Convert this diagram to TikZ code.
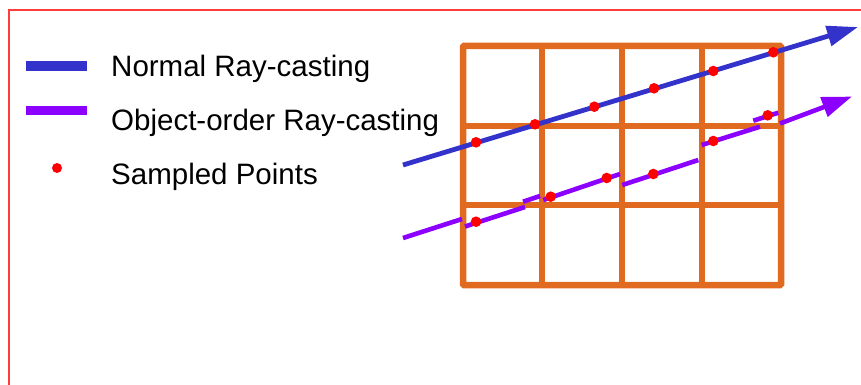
\documentclass[tikz,border=0pt]{standalone}
\usepackage{fontspec}
\setmainfont{Liberation Sans}
\usepackage{tikz}
\usetikzlibrary{arrows.meta, positioning}

\definecolor{rayblue}{RGB}{51,51,204}
\definecolor{raypurple}{RGB}{140,0,255}
\definecolor{gridorange}{RGB}{224,106,32}
\definecolor{frame}{RGB}{255,60,60}

\begin{document}
\begin{tikzpicture}[x=1pt, y=-1pt,
  gridline/.style={draw=gridorange, line width=6.5pt, line cap=rect},
  normalray/.style={draw=rayblue, line width=4.8pt, -{Triangle[length=31pt, width=20pt]}},
  objray/.style={draw=raypurple, line width=4.6pt},
  objarr/.style={objray, -{Triangle[length=30pt, width=20pt]}},
  sample/.style={fill=red},
  legend/.style={anchor=base west, inner sep=0pt, font=\fontsize{29.5}{35}\selectfont},
]

\useasboundingbox (0,0) rectangle (861,385);

% frame (only top and left edge inside the page)
\draw[frame, line width=1.5pt] (9,390) -- (9,10) -- (870,10);

% legend
\draw[rayblue, line width=10pt] (26,66) -- (87,66);
\draw[raypurple, line width=9pt] (26,111) -- (87,111);
\fill[sample] (57,168) circle (5pt);
\node[legend] (lnormal) at (111,77) {Normal Ray-casting};
\node[legend] (lobject) at (111,130) {Object-order Ray-casting};
\node[legend] (lsample) at (111,184) {Sampled Points};

% volume grid
\draw[gridline, rounded corners=1pt] (463,46) rectangle (781,285);
\foreach \x in {542,622,702}
  \draw[gridline] (\x,46) -- (\x,285);
\foreach \y in {126,205}
  \draw[gridline] (463,\y) -- (781,\y);

% normal ray
\coordinate (b0) at (403,165);
\coordinate (b1) at (858,27);
\draw[normalray] (b0) -- (b1);

% object-order ray, one piece per block
\draw[objray] (403,238) -- (462,219);
\draw[objray] (465,226.5) -- (525,207);
\draw[objray] (523,201.7) -- (540,196);
\draw[objray] (543.3,200) -- (620,174);
\draw[objray] (622.3,185) -- (698.3,160);
\draw[objray] (701.7,145) -- (760,126.7);
\draw[objray] (753.3,120.7) -- (778.3,112.7);
\coordinate (p0) at (780,123.5);
\coordinate (p1) at (852,96.5);
\draw[objarr] (p0) -- (p1);

% sampled points
\foreach \px/\py in {476/142.3, 535/124.3, 594.3/106.7, 654/88.3, 713.3/71, 773.3/52.3}
  \fill[sample] (\px,\py) circle (5.3pt);
\foreach \px/\py in {476/221.7, 550.7/196.7, 606.7/178, 653.3/174, 713.3/141, 767.7/115.3}
  \fill[sample] (\px,\py) circle (5.3pt);

\end{tikzpicture}
\end{document}
